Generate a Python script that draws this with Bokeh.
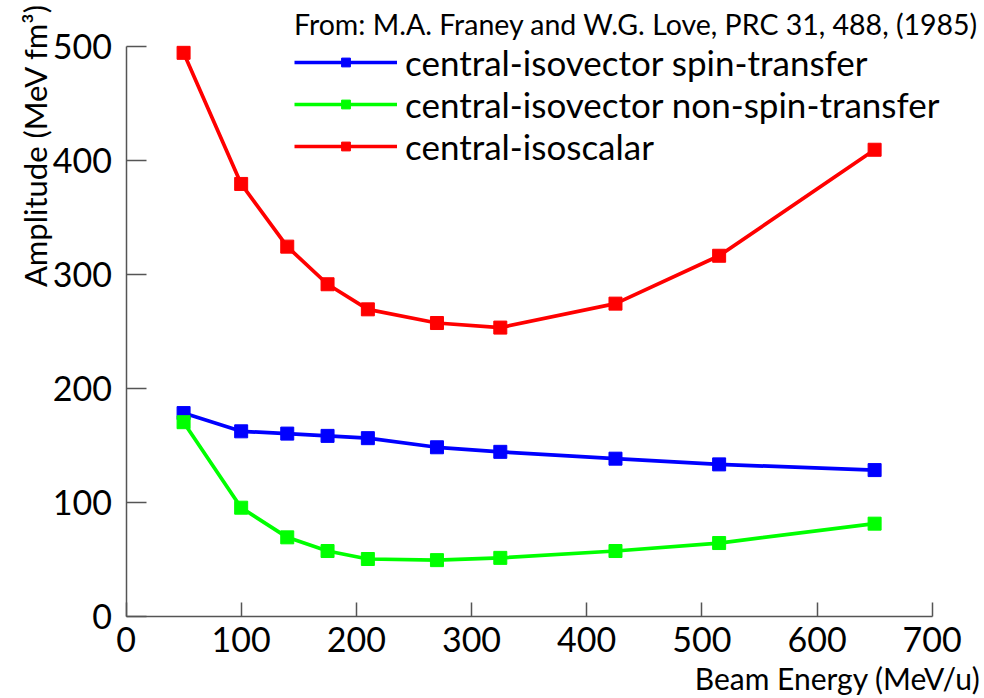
from bokeh.plotting import figure
from bokeh.models import Legend, LegendItem, FixedTicker, Label
from bokeh.embed import file_html
from bokeh.resources import INLINE

energy = [50, 100, 140, 175, 210, 270, 325, 425, 515, 650]
spin_transfer = [178, 162, 160, 158, 156, 148, 144, 138, 133, 128]
non_spin_transfer = [170, 95, 69, 57, 50, 49, 51, 57, 64, 81]
isoscalar = [494, 379, 324, 291, 269, 257, 253, 274, 316, 409]

x_ticks = [0, 100, 200, 300, 400, 500, 600, 700]
y_ticks = [0, 100, 200, 300, 400, 500]

series_names = ["central-isovector spin-transfer",
                "central-isovector non-spin-transfer",
                "central-isoscalar"]
series_colors = ["#0000ff", "#00ff00", "#ff0000"]
source_note = "From: M.A. Franey and W.G. Love, PRC 31, 488, (1985)"
x_title = "Beam Energy (MeV/u)"
y_title = "Amplitude (MeV fm³)"

FONT = "Lato"
W, H = 984, 698
# pixel geometry of the axes box in the page
X0_PX, X1_PX = 125.5, 931.7      # x = 0 and x = 700
Y0_PX, Y1_PX = 615.5, 45.5       # y = 0 and y = 500 (from top)
sx = (X1_PX - X0_PX) / 700.0
sy = (Y0_PX - Y1_PX) / 500.0

p = figure(width=W, height=H,
           x_range=(-X0_PX / sx, (W - X0_PX) / sx),
           y_range=(-(H - Y0_PX) / sy, Y0_PX / sy),
           output_backend="svg", toolbar_location=None, title=None,
           min_border=0, min_border_left=0, min_border_right=0,
           min_border_top=0, min_border_bottom=0)
p.outline_line_color = None
p.xgrid.grid_line_color = None
p.ygrid.grid_line_color = None
p.background_fill_color = "white"
p.border_fill_color = "white"

for ax, ticks, bnds in ((p.xaxis[0], x_ticks, (0, 700)), (p.yaxis[0], y_ticks, (0, 500))):
    ax.ticker = FixedTicker(ticks=ticks)
    ax.bounds = bnds
    ax.fixed_location = 0
    ax.minor_tick_line_color = None
    ax.axis_line_color = "#555555"
    ax.axis_line_width = 1.5
    ax.major_tick_line_color = "#555555"
    ax.major_tick_line_width = 1.5
    ax.major_tick_out = 0
    ax.major_label_text_font = FONT
    ax.major_label_text_font_size = "34px"
    ax.major_label_text_color = "black"
p.xaxis.major_tick_in = 14
p.yaxis.major_tick_in = 20
p.xaxis.major_label_standoff = 11
p.yaxis.major_label_standoff = 14

series = [spin_transfer, non_spin_transfer, isoscalar]
items = []
for name, ys, col in zip(series_names, series, series_colors):
    r1 = p.line(energy, ys, line_color=col, line_width=3.7)
    r2 = p.scatter(energy, ys, marker="square", size=13, fill_color=col, line_color=col)
    items.append(LegendItem(label=name, renderers=[r1, r2]))

legend = Legend(items=items, location=(294, H - 167),
                title=source_note, title_text_font=FONT,
                title_text_font_size="28.5px", title_text_font_style="normal",
                title_text_color="black", title_standoff=0,
                label_text_font=FONT, label_text_font_size="35px",
                label_text_color="black",
                glyph_width=103, glyph_height=22, label_height=22,
                label_standoff=8, spacing=-1, padding=0, margin=0,
                background_fill_alpha=0, border_line_color=None)
p.add_layout(legend, "center")

xlab = Label(x=980, y=H - 677, x_units="screen", y_units="screen",
             text=x_title, text_font=FONT, text_font_size="30px",
             text_align="right", text_baseline="middle", text_color="black")
ylab = Label(x=34, y=H - 145, x_units="screen", y_units="screen",
             text=y_title, angle=90, angle_units="deg",
             text_font=FONT, text_font_size="31px",
             text_align="center", text_baseline="middle", text_color="black")
p.add_layout(xlab)
p.add_layout(ylab)

open("out.html", "w").write(file_html(p, INLINE))
